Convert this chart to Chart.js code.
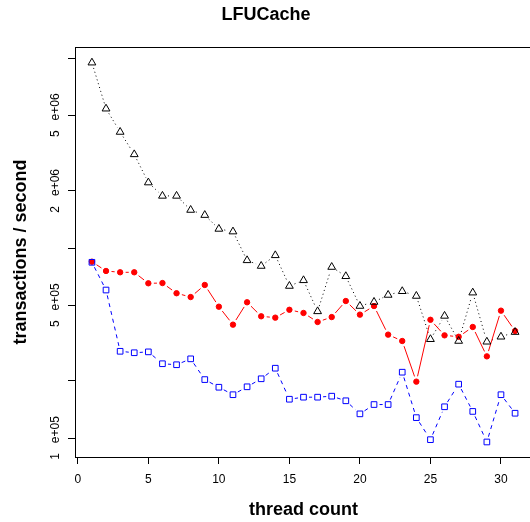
<!DOCTYPE html>
<html>
<head>
<meta charset="utf-8">
<title>LFUCache</title>
<script src="https://cdn.jsdelivr.net/npm/chart.js@4.4.1/dist/chart.umd.min.js"></script>
<style>
  html, body { margin: 0; padding: 0; overflow: hidden; background: #fff; }
  #wrap { width: 540px; height: 522px; }
</style>
</head>
<body>
<div id="wrap"><canvas id="chart" width="540" height="522"></canvas></div>
<script>
// Thread counts on the x axis
const threads = [1, 2, 3, 4, 5, 6, 7, 8, 9, 10, 11, 12, 13, 14, 15, 16,
                 17, 18, 19, 20, 21, 22, 23, 24, 25, 26, 27, 28, 29, 30, 31];

// Transactions per second for each run (triangles, dotted)
const seriesBlack = [9.45e6, 5.41e6, 4.08e6, 3.11e6, 2.21e6, 1.88e6, 1.88e6, 1.585e6,
                     1.49e6, 1.26e6, 1.22e6, 8.61e5, 8.04e5, 9.15e5, 6.31e5, 6.76e5,
                     4.64e5, 7.94e5, 7.10e5, 4.95e5, 5.20e5, 5.66e5, 5.92e5, 5.59e5,
                     3.31e5, 4.39e5, 3.24e5, 5.82e5, 3.21e5, 3.41e5, 3.61e5];

// Filled circles, solid line
const seriesRed = [8.47e5, 7.57e5, 7.45e5, 7.45e5, 6.52e5, 6.54e5, 5.78e5, 5.52e5,
                   6.39e5, 4.91e5, 3.95e5, 5.18e5, 4.37e5, 4.30e5, 4.73e5, 4.55e5,
                   4.08e5, 4.33e5, 5.26e5, 4.46e5, 4.95e5, 3.50e5, 3.24e5, 1.98e5,
                   4.19e5, 3.47e5, 3.41e5, 3.84e5, 2.69e5, 4.68e5, 3.66e5];

// Open squares, dashed line
const seriesBlue = [8.41e5, 6.01e5, 2.86e5, 2.81e5, 2.84e5, 2.46e5, 2.43e5, 2.61e5,
                    2.03e5, 1.85e5, 1.69e5, 1.86e5, 2.05e5, 2.33e5, 1.60e5, 1.64e5,
                    1.64e5, 1.66e5, 1.57e5, 1.34e5, 1.50e5, 1.50e5, 2.22e5, 1.28e5,
                    9.80e4, 1.46e5, 1.92e5, 1.38e5, 9.53e4, 1.69e5, 1.35e5];

// Axis ticks and their labels
const xTickValues = [0, 5, 10, 15, 20, 25, 30];
const yTickValues = [1e5, 2e5, 5e5, 1e6, 2e6, 5e6, 1e7];
const yTickLabels = ['1   e+05', '', '5   e+05', '', '2   e+06', '5   e+06', ''];

const FONT = '"Liberation Sans", Arial, Helvetica, sans-serif';
Chart.defaults.font.family = FONT;
Chart.defaults.color = '#000';

const toPoints = vals => threads.map((t, i) => ({ x: t, y: vals[i] }));

// Lines between markers with a gap around each point
const GAP = 5.5;
const gappedLines = {
  id: 'gappedLines',
  beforeDatasetsDraw(chart) {
    const { ctx, chartArea } = chart;
    chart.data.datasets.forEach((ds, i) => {
      const pts = chart.getDatasetMeta(i).data;
      ctx.save();
      ctx.beginPath();
      ctx.rect(chartArea.left, chartArea.top, chartArea.right - chartArea.left, chartArea.bottom - chartArea.top);
      ctx.clip();
      ctx.strokeStyle = ds.lineColor;
      ctx.lineWidth = 1;
      ctx.setLineDash(ds.lineDash);
      for (let j = 1; j < pts.length; j++) {
        const a = pts[j - 1], b = pts[j];
        const dx = b.x - a.x, dy = b.y - a.y;
        const d = Math.hypot(dx, dy);
        if (d <= 2 * GAP) continue;
        const ux = dx / d, uy = dy / d;
        ctx.beginPath();
        ctx.moveTo(a.x + ux * GAP, a.y + uy * GAP);
        ctx.lineTo(b.x - ux * GAP, b.y - uy * GAP);
        ctx.stroke();
      }
      ctx.restore();
    });
  }
};

// Frame around the plotting region
const plotBox = {
  id: 'plotBox',
  beforeDatasetsDraw(chart) {
    const { ctx, chartArea: a } = chart;
    ctx.save();
    ctx.strokeStyle = '#000';
    ctx.lineWidth = 1;
    ctx.beginPath();
    ctx.moveTo(Math.round(a.left) + 0.5, Math.round(a.top) + 0.5);
    ctx.lineTo(Math.round(a.right) + 0.5, Math.round(a.top) + 0.5);
    ctx.lineTo(Math.round(a.right) + 0.5, Math.round(a.bottom) + 0.5);
    ctx.stroke();
    ctx.restore();
  }
};

new Chart(document.getElementById('chart'), {
  type: 'scatter',
  data: {
    datasets: [
      {
        label: 'black',
        data: toPoints(seriesBlack),
        order: 1,
        lineColor: '#000',
        lineDash: [1, 3],
        pointStyle: 'triangle',
        pointRadius: 4.5,
        pointBorderWidth: 1,
        pointBorderColor: '#000',
        pointBackgroundColor: 'rgba(0,0,0,0)'
      },
      {
        label: 'blue',
        data: toPoints(seriesBlue),
        order: 0,
        lineColor: '#0000ff',
        lineDash: [4, 4],
        pointStyle: 'rect',
        pointRadius: 4,
        pointBorderWidth: 1,
        pointBorderColor: '#0000ff',
        pointBackgroundColor: 'rgba(0,0,0,0)'
      },
      {
        label: 'red',
        data: toPoints(seriesRed),
        order: 2,
        lineColor: '#ff0000',
        lineDash: [],
        pointStyle: 'circle',
        pointRadius: 2.7,
        pointBorderWidth: 1,
        pointBorderColor: '#ff0000',
        pointBackgroundColor: '#ff0000'
      }
    ]
  },
  options: {
    responsive: false,
    animation: false,
    devicePixelRatio: 1,
    showLine: false,
    layout: { padding: { top: 0, left: 0, right: 8, bottom: 0 } },
    plugins: {
      legend: { display: false },
      tooltip: { enabled: false },
      title: {
        display: true,
        text: 'LFUCache',
        color: '#000',
        font: { size: 18, weight: 'bold', family: FONT },
        padding: { top: 4.2, bottom: 21.2 }
      }
    },
    scales: {
      x: {
        type: 'linear',
        bounds: 'data',
        min: -0.2,
        max: 32.2,
        afterBuildTicks: s => { s.ticks = xTickValues.map(v => ({ value: v })); },
        afterFit: s => { s.height = 65; },
        grid: { drawOnChartArea: false, drawTicks: true, tickLength: 7, color: '#000', tickColor: '#000', tickWidth: 1 },
        border: { display: true, color: '#000', width: 1 },
        ticks: { color: '#000', font: { size: 12 }, padding: 8, maxRotation: 0, autoSkip: false },
        title: {
          display: true,
          text: 'thread count',
          color: '#000',
          font: { size: 18, weight: 'bold', family: FONT },
          padding: { top: 0, bottom: 1.2 }
        }
      },
      y: {
        type: 'logarithmic',
        bounds: 'data',
        min: 79433,
        max: 1.1428e7,
        afterBuildTicks: s => { s.ticks = yTickValues.map(v => ({ value: v })); },
        afterFit: s => { s.width = 75; },
        grid: { drawOnChartArea: false, drawTicks: true, tickLength: 7, color: '#000', tickColor: '#000', tickWidth: 1 },
        border: { display: true, color: '#000', width: 1 },
        ticks: {
          color: '#000',
          font: { size: 12 },
          autoSkip: false,
          minRotation: 90,
          maxRotation: 90,
          crossAlign: 'center',
          padding: -10,
          callback: v => {
            const i = yTickValues.indexOf(v);
            return i >= 0 ? yTickLabels[i] : '';
          }
        },
        title: {
          display: true,
          text: 'transactions / second',
          color: '#000',
          font: { size: 18, weight: 'bold', family: FONT },
          padding: { top: 10, bottom: 0 }
        }
      }
    }
  },
  plugins: [gappedLines, plotBox]
});
</script>
</body>
</html>
